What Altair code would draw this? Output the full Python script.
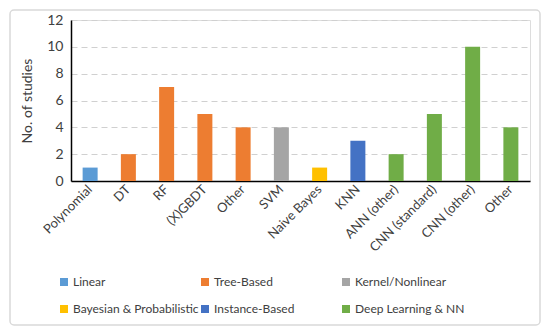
import altair as alt
import pandas as pd

labels = ["Polynomial", "DT", "RF", "(X)GBDT", "Other", "SVM", "Naive Bayes",
          "KNN", "ANN (other)", "CNN (standard)", "CNN (other)", "Other"]
values = [1, 2, 7, 5, 4, 4, 1, 3, 2, 5, 10, 4]
groups = ["Linear", "Tree-Based", "Tree-Based", "Tree-Based", "Tree-Based",
          "Kernel/Nonlinear", "Bayesian & Probabilistic", "Instance-Based",
          "Deep Learning & NN", "Deep Learning & NN", "Deep Learning & NN",
          "Deep Learning & NN"]
# legend fills column by column (2 rows x 3 columns)
group_order = ["Linear", "Bayesian & Probabilistic", "Tree-Based",
               "Instance-Based", "Kernel/Nonlinear", "Deep Learning & NN"]
group_colors = ["#5B9BD5", "#FFC000", "#ED7D31", "#4472C4", "#A5A5A5", "#70AD47"]

df = pd.DataFrame({"idx": list(range(len(labels))), "label": labels,
                   "value": values, "group": groups})

label_js = "[" + ",".join("'" + l + "'" for l in labels) + "]"

W, H = 459, 161
FONT = "Lato"

bars = alt.Chart(df).mark_bar(size=15).encode(
    x=alt.X("idx:O", title=None,
            scale=alt.Scale(paddingInner=0.6, paddingOuter=0.3),
            axis=alt.Axis(labelExpr=label_js + "[datum.value]", labelAngle=-45,
                          labelAlign="right", labelBaseline="middle",
                          ticks=False, domainColor="#000000", domainWidth=1.5,
                          labelFontSize=13, labelColor="#404040", labelFont=FONT,
                          labelPadding=6)),
    y=alt.Y("value:Q", title="No. of studies",
            scale=alt.Scale(domain=[0, 12]),
            axis=alt.Axis(values=[0, 2, 4, 6, 8, 10, 12], ticks=False,
                          domainColor="#000000", domainWidth=1.5,
                          gridColor="#D0D0D0", gridDash=[6, 4], gridWidth=1,
                          labelFontSize=14, labelColor="#404040", labelFont=FONT,
                          labelPadding=8, titleFontSize=14, titleFont=FONT,
                          titleFontWeight="normal", titleColor="#404040",
                          titlePadding=12)),
    color=alt.Color("group:N", title=None,
                    scale=alt.Scale(domain=group_order, range=group_colors),
                    legend=alt.Legend(orient="none", legendX=-13, legendY=256,
                                      columns=3, gridAlign="all",
                                      columnPadding=0, rowPadding=15,
                                      symbolType="square", symbolSize=64,
                                      symbolStrokeWidth=0, labelFontSize=12,
                                      labelFont=FONT, labelColor="#404040",
                                      labelOffset=3)),
)

border = alt.Chart(pd.DataFrame({"k": [0]})).mark_rect(
    fill=None, stroke="#D9D9D9", strokeWidth=1.5, cornerRadius=4
).encode(x=alt.value(-61), x2=alt.value(W + 10), y=alt.value(-10),
         y2=alt.value(H + 144))

chart = alt.layer(border, bars).properties(
    width=W, height=H,
    autosize=alt.AutoSizeParams(type="none"),
    padding={"left": 63, "top": 12, "right": 12, "bottom": 145},
).configure_view(stroke=None).configure(background="#FFFFFF")

chart.save("out.html", embed_options={"renderer": "svg", "actions": False})
